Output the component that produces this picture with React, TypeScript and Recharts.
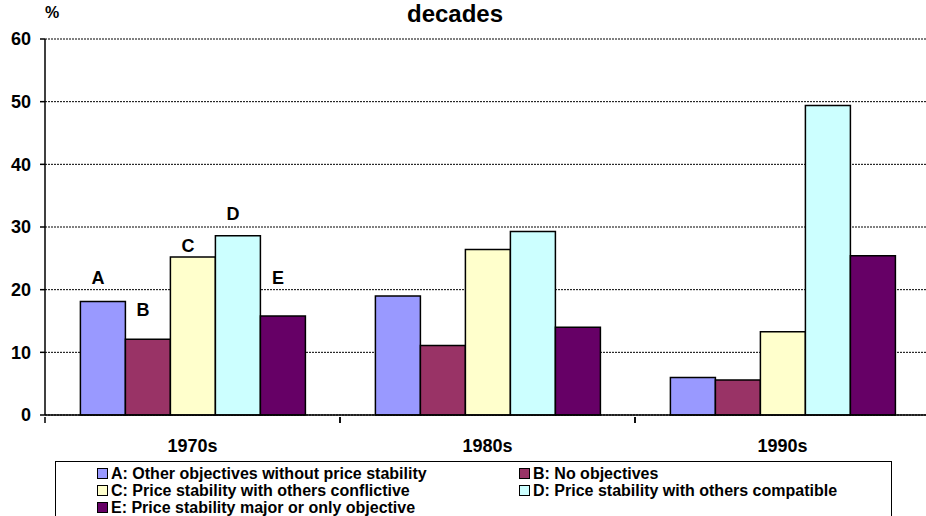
import React from 'react';
import { BarChart, Bar, XAxis, YAxis, CartesianGrid, LabelList } from 'recharts';

const decades = ['1970s', '1980s', '1990s'];
const seriesKeys = ['A', 'B', 'C', 'D', 'E'];
const seriesNames = [
  'A: Other objectives without price stability',
  'B: No objectives',
  'C: Price stability with others conflictive',
  'D: Price stability with others compatible',
  'E: Price stability major or only objective',
];
const seriesA = [18.1, 19.0, 6.0];
const seriesB = [12.1, 11.1, 5.6];
const seriesC = [25.2, 26.4, 13.3];
const seriesD = [28.6, 29.3, 49.4];
const seriesE = [15.8, 14.0, 25.4];
const yTicks = [0, 10, 20, 30, 40, 50, 60];

const colors = ['#9999FF', '#993366', '#FFFFCC', '#CCFFFF', '#660066'];
// how far above each bar the letter sits (first decade only)
const letterLift = [18, 23, 5, 16, 32];

const data = decades.map((d, i) => ({
  name: d,
  A: seriesA[i],
  B: seriesB[i],
  C: seriesC[i],
  D: seriesD[i],
  E: seriesE[i],
}));

const FONT = '"Liberation Sans", Arial, Helvetica, sans-serif';
const W = 940;
const H = 516;
const M = { top: 39, right: 10, bottom: 60, left: 0 };
const Y_W = 45;
const BAND = (W - M.left - M.right - Y_W) / decades.length;

const DecadeTick = (props: any) => {
  const { x, y, payload } = props;
  const left = x - BAND / 2;
  return (
    <g>
      <line x1={left} y1={y} x2={left} y2={y + 6} stroke="#000" strokeWidth={1.5} />
      <line x1={x + BAND / 2} y1={y} x2={x + BAND / 2} y2={y + 6} stroke="#000" strokeWidth={1.5} />
      <text x={x} y={y + 35} textAnchor="middle" fontFamily={FONT} fontWeight="bold" fontSize={18} fill="#000">
        {payload.value}
      </text>
    </g>
  );
};

const letterLabel = (k: number) => (props: any) => {
  const { x, y, width, index } = props;
  if (index !== 0) return null;
  return (
    <text
      x={Number(x) + Number(width) / 2 - 5}
      y={Number(y) - letterLift[k]}
      textAnchor="middle"
      fontFamily={FONT}
      fontWeight="bold"
      fontSize={18}
      fill="#000"
    >
      {seriesKeys[k]}
    </text>
  );
};

const LegendItem = ({ k }: { k: number }) => (
  <div style={{ display: 'flex', alignItems: 'center', height: 17, whiteSpace: 'nowrap' }}>
    <span
      style={{
        display: 'inline-block',
        width: 9,
        height: 9,
        border: '1px solid #000',
        background: colors[k],
        marginRight: 3,
      }}
    />
    <span>{seriesNames[k]}</span>
  </div>
);

export default function App() {
  return (
    <div
      style={{
        position: 'fixed',
        left: 0,
        top: 0,
        width: 926,
        height: 516,
        overflow: 'hidden',
        background: '#fff',
        fontFamily: FONT,
      }}
    >
      <div
        style={{
          position: 'absolute',
          left: 355,
          width: 200,
          top: 1,
          textAlign: 'center',
          fontWeight: 'bold',
          fontSize: 24,
          lineHeight: '26px',
        }}
      >
        decades
      </div>
      <div style={{ position: 'absolute', left: 45, top: 4, fontWeight: 'bold', fontSize: 16 }}>%</div>
      <BarChart width={W} height={H} data={data} margin={M} barGap={0} barCategoryGap="12%">
        <CartesianGrid vertical={false} stroke="#000" strokeDasharray="2 1" strokeWidth={1} />
        <XAxis
          dataKey="name"
          height={41}
          axisLine={{ stroke: '#000', strokeWidth: 1.5 }}
          tickLine={false}
          tickSize={0}
          tick={<DecadeTick />}
          interval={0}
        />
        <YAxis
          width={Y_W}
          domain={[0, 60]}
          ticks={yTicks}
          interval={0}
          axisLine={{ stroke: '#000', strokeWidth: 1.5 }}
          tickLine={{ stroke: '#000', strokeWidth: 1.5 }}
          tickSize={5}
          tickMargin={9}
          tick={{ fill: '#000', fontFamily: FONT, fontWeight: 'bold', fontSize: 18 }}
        />
        {seriesKeys.map((k, i) => (
          <Bar key={k} dataKey={k} fill={colors[i]} stroke="#000" strokeWidth={1.5} isAnimationActive={false}>
            <LabelList dataKey={k} content={letterLabel(i)} />
          </Bar>
        ))}
      </BarChart>
      <div
        style={{
          position: 'absolute',
          left: 55,
          top: 461,
          width: 837,
          height: 80,
          border: '1.5px solid #000',
          boxSizing: 'border-box',
          fontWeight: 'bold',
          fontSize: 16,
        }}
      >
        <div style={{ position: 'absolute', left: 41, top: 3 }}>
          <LegendItem k={0} />
          <LegendItem k={2} />
          <LegendItem k={4} />
        </div>
        <div style={{ position: 'absolute', left: 463, top: 3 }}>
          <LegendItem k={1} />
          <LegendItem k={3} />
        </div>
      </div>
    </div>
  );
}
